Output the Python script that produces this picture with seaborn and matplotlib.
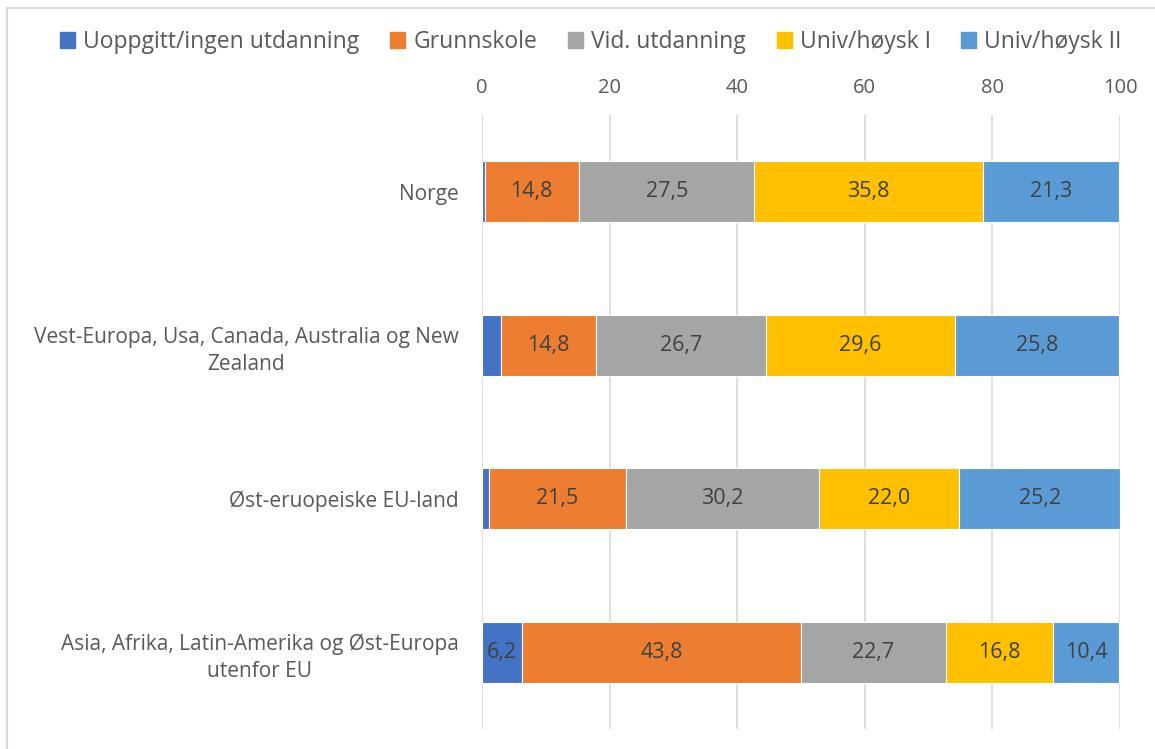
import pandas as pd
import seaborn as sns
import matplotlib.pyplot as plt
from matplotlib.lines import Line2D

regioner = ['Norge',
            'Vest-Europa, Usa, Canada, Australia og New\nZealand',
            'Øst-eruopeiske EU-land',
            'Asia, Afrika, Latin-Amerika og Øst-Europa\nutenfor EU']
serier = ['Uoppgitt/ingen utdanning', 'Grunnskole', 'Vid. utdanning',
          'Univ/høysk I', 'Univ/høysk II']
uoppgitt = [0.4, 3.0, 1.1, 6.2]
grunnskole = [14.8, 14.8, 21.5, 43.8]
vid_utdanning = [27.5, 26.7, 30.2, 22.7]
univ_1 = [35.8, 29.6, 22.0, 16.8]
univ_2 = [21.3, 25.8, 25.2, 10.4]
farger = ['#4472C4', '#ED7D31', '#A5A5A5', '#FFC000', '#5B9BD5']

dados = pd.DataFrame({
    'Region': regioner * 5,
    'Serie': sum([[s] * 4 for s in serier], []),
    'Verdi': uoppgitt + grunnskole + vid_utdanning + univ_1 + univ_2,
})

sns.set_theme(style='white')
plt.rcParams['font.family'] = ['Open Sans', 'DejaVu Sans']

fig = plt.figure(figsize=(11.55, 7.49), dpi=100)
ax = fig.add_axes([482 / 1155, 20 / 749, 638 / 1155, 614 / 749])

start = [0.0] * 4
for serie, farge in zip(serier, farger):
    sub = dados[dados['Serie'] == serie]
    verdier = sub['Verdi'].tolist()
    sns.barplot(x=verdier, y=regioner, left=start, color=farge, orient='h',
                width=0.4, edgecolor='white', linewidth=0.8, ax=ax,
                order=regioner, errorbar=None, saturation=1)
    for i, v in enumerate(verdier):
        if v >= 5:
            ax.text(start[i] + v / 2, i, f'{v:.1f}'.replace('.', ','),
                    ha='center', va='center', fontsize=15.5, color='#404040')
    start = [s + v for s, v in zip(start, verdier)]

ax.set_xlim(0, 100)
ax.set_ylim(3.5, -0.5)
ax.set_xticks(range(0, 101, 20))
ax.tick_params(axis='x', length=0, pad=12.5, labelsize=14.5, labelcolor='#595959',
               top=True, labeltop=True, bottom=False, labelbottom=False)
ax.tick_params(axis='y', length=0, pad=17, labelsize=15, labelcolor='#595959')
for lab in ax.get_yticklabels():
    lab.set_multialignment('center')
    lab.set_linespacing(1.4)
ax.set_xlabel('')
ax.set_ylabel('')
ax.grid(axis='x', color='#D9D9D9', linewidth=1.2)
ax.set_axisbelow(True)
for sp in ax.spines.values():
    sp.set_visible(False)

handles = [plt.Rectangle((0, 0), 1, 1, color=f) for f in farger]
fig.legend(handles, serier, loc='center', bbox_to_anchor=(591 / 1155, 1 - 42 / 749),
           ncol=5, frameon=False, fontsize=16.5, handlelength=0.65, handleheight=0.65,
           handletextpad=0.35, columnspacing=1.35, labelcolor='#595959')

fig.add_artist(Line2D([7 / 1155, 7 / 1155], [0, 1 - 8 / 749], color='#D9D9D9', lw=1.5))
fig.add_artist(Line2D([7 / 1155, 1], [1 - 8 / 749, 1 - 8 / 749], color='#D9D9D9', lw=1.5))

plt.savefig('out.png', dpi=100)
plt.close()
